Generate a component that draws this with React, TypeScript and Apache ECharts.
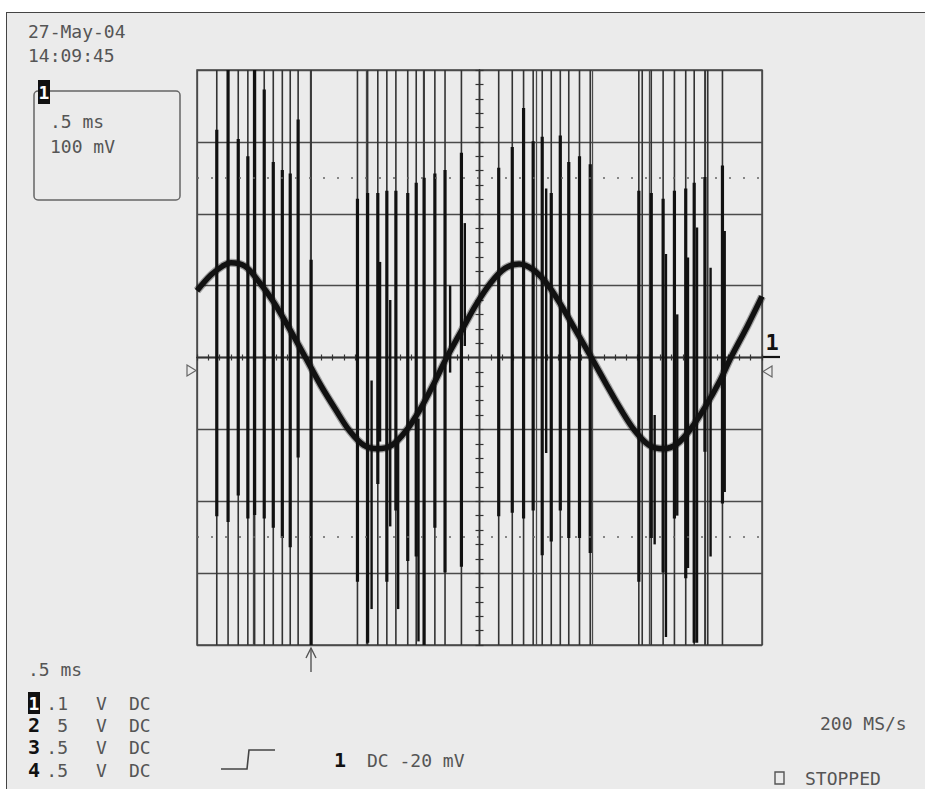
import React, { useEffect, useRef } from "react";
import * as echarts from "echarts";

// Screen in divisions: 10 horizontal (0.5 ms/div), 8 vertical (100 mV/div)
const X_MIN = -5;
const X_MAX = 5;
const Y_MIN = -4;
const Y_MAX = 4;
const DOTTED_LEVELS = [2.5, -2.5];

// Channel 1 sine trace (x in div, y in div)
const traceX = [
  -5.0, -4.75, -4.55, -4.4, -4.15, -3.9, -3.65, -3.4, -3.08, -2.8, -2.55, -2.3, -2.05, -1.8,
  -1.55, -1.3, -1.05, -0.8, -0.58, -0.3, -0.05, 0.2, 0.45, 0.7, 0.95, 1.2, 1.45, 1.7, 1.98,
  2.25, 2.5, 2.75, 3.0, 3.25, 3.5, 3.75, 4.0, 4.25, 4.45, 4.75, 5.0,
];
const traceY = [
  0.93, 1.15, 1.27, 1.32, 1.27, 1.05, 0.78, 0.45, 0.0, -0.4, -0.72, -1.02, -1.22, -1.27,
  -1.22, -1.02, -0.72, -0.35, 0.0, 0.4, 0.75, 1.04, 1.24, 1.3, 1.22, 1.02, 0.72, 0.38, 0.0,
  -0.38, -0.72, -1.02, -1.22, -1.27, -1.2, -0.98, -0.68, -0.33, 0.0, 0.45, 0.85,
];

// Spikes reaching full screen height: [x, core top, core bottom]
const burst1 = [
  [-4.65, 3.17, -2.21], [-4.45, 4.0, -2.29], [-4.27, 3.04, -1.92], [-4.1, 2.8, -2.24],
  [-3.98, 4.0, -2.19], [-3.81, 3.73, -2.24], [-3.65, 2.72, -2.37], [-3.49, 2.61, -2.51],
  [-3.35, 2.56, -2.64], [-3.21, 3.31, -1.39], [-2.98, 1.36, -4.0],
];
const burst2 = [
  [-2.16, 2.21, -3.12], [-1.98, 2.29, -3.97], [-1.8, 2.29, -1.76], [-1.64, 2.32, -3.12],
  [-1.48, 2.32, -2.13], [-1.27, 2.29, -2.83], [-1.12, 2.43, -2.77], [-0.98, 2.5, -4.0],
  [-0.79, 2.56, -2.37], [-0.61, 2.61, -2.99], [-0.32, 2.85, -2.91],
];
const burst3 = [
  [0.34, 2.64, -2.21], [0.58, 2.93, -2.16], [0.78, 3.47, -2.24], [0.95, 3.01, -2.13],
  [1.11, 3.07, -2.75], [1.27, 2.29, -2.56], [1.43, 3.09, -2.13], [1.58, 2.72, -2.51],
  [1.77, 2.8, -2.51], [1.96, 2.69, -2.72],
];
const burst4 = [
  [2.82, 2.32, -3.12], [2.88, 0.0, 0.0], [3.04, 2.29, -2.51], [3.25, 2.21, -2.99],
  [3.45, 2.32, -2.24], [3.65, 2.35, -3.07], [3.8, 2.43, -3.97], [3.99, 2.51, -1.31],
  [4.04, 0.0, 0.0], [4.3, 2.67, -2.03],
];
// Shorter spikes inside the bursts: [x, top, bottom]
const innerSpikes = [
  [-1.91, -0.32, -3.5], [-1.76, 1.33, -1.17], [-1.58, 0.8, -2.35], [-1.44, -1.17, -3.5],
  [-1.08, -0.85, -3.95], [-0.52, 1.0, -0.21], [-0.26, 1.87, 0.16], [1.18, 2.35, -1.33],
  [3.1, -0.8, -2.6], [3.3, 1.44, -3.89], [3.5, 0.6, -2.2], [3.69, 1.39, -2.93],
  [3.85, 1.81, -3.97], [4.09, 1.25, -2.77], [4.34, 1.76, -1.87],
];

const dateLabel = "27-May-04";
const timeLabel = "14:09:45";
const boxLines = [".5 ms", "100 mV"];
const timebaseLabel = ".5 ms";
const chNames = ["1", "2", "3", "4"];
const chScales = [".1", "5", ".5", ".5"];
const chUnits = ["V", "V", "V", "V"];
const chCoupling = ["DC", "DC", "DC", "DC"];
const triggerChannel = "1";
const triggerText = "DC -20 mV";
const sampleRate = "200 MS/s";
const stateLabel = "STOPPED";

const FONT = '"DejaVu Sans Mono", "Liberation Mono", monospace';
const TXT = "#555";

function txt(x: number, y: number, text: string, extra: any = {}) {
  return {
    type: "text",
    x,
    y,
    style: {
      text,
      fill: TXT,
      fontSize: 18,
      fontFamily: FONT,
      align: "left",
      verticalAlign: "middle",
      ...extra,
    },
  };
}

export default function App() {
  const ref = useRef<HTMLDivElement>(null);
  useEffect(() => {
    if (!ref.current) return;
    const chart = echarts.init(ref.current, undefined, { renderer: "svg" });

    const mainData = [...burst1, ...burst2, ...burst3, ...burst4];

    const renderSpike = (full: boolean) => (params: any, api: any) => {
      const x = api.value(0);
      const hi = api.value(1);
      const lo = api.value(2);
      const children: any[] = [];
      if (full) {
        const t = api.coord([x, Y_MAX]);
        const b = api.coord([x, Y_MIN]);
        children.push({
          type: "line",
          shape: { x1: t[0], y1: t[1], x2: b[0], y2: b[1] },
          style: { stroke: "#333", lineWidth: 1.6 },
        });
      }
      const a = api.coord([x, hi]);
      const c = api.coord([x, lo]);
      children.push({
        type: "line",
        shape: { x1: a[0], y1: a[1], x2: c[0], y2: c[1] },
        style: { stroke: "#111", lineWidth: full ? 3.2 : 2.4 },
      });
      return { type: "group", children };
    };

    const axisLineStyle = { color: "#333", width: 1.4 };
    const gridLine = { show: true, lineStyle: { color: "#4a4a4a", width: 1.3 } };

    const rowY = [703, 725, 747, 770];
    const graphic: any[] = [
      txt(28, 31, dateLabel),
      txt(28, 55, timeLabel),
      {
        type: "rect",
        shape: { x: 34, y: 91, width: 146, height: 109, r: 4 },
        style: { fill: "none", stroke: "#666", lineWidth: 1.5 },
      },
      {
        type: "rect",
        shape: { x: 38, y: 80, width: 12, height: 24 },
        style: { fill: "#111" },
      },
      txt(44, 92, "1", { fill: "#fff", align: "center", fontWeight: "bold", fontSize: 18 }),
      txt(50, 121, boxLines[0]),
      txt(50, 146, boxLines[1]),
      txt(28, 669, timebaseLabel),
      // channel table
      {
        type: "rect",
        shape: { x: 28, y: rowY[0] - 11, width: 12, height: 22 },
        style: { fill: "#111" },
      },
      ...chNames.map((n, i) =>
        i === 0
          ? txt(34, rowY[i], n, { fill: "#fff", align: "center", fontWeight: "bold" })
          : txt(34, rowY[i], n, { fill: "#111", align: "center", fontWeight: "bold", fontSize: 20 })
      ),
      ...chScales.map((s, i) => txt(68, rowY[i], s, { align: "right" })),
      ...chUnits.map((u, i) => txt(96, rowY[i], u)),
      ...chCoupling.map((c, i) => txt(129, rowY[i], c)),
      // trigger symbol
      {
        type: "polyline",
        shape: { points: [[221, 769], [247, 769], [249, 750], [275, 750]] },
        style: { stroke: "#444", lineWidth: 1.6, fill: "none" },
      },
      txt(340, 760, triggerChannel, { fill: "#111", align: "center", fontWeight: "bold", fontSize: 20 }),
      txt(367, 760, triggerText),
      txt(820, 723, sampleRate),
      {
        type: "rect",
        shape: { x: 775, y: 772, width: 9, height: 12 },
        style: { fill: "none", stroke: "#555", lineWidth: 1.4 },
      },
      txt(805, 778, stateLabel),
      // trigger position arrow below the screen
      {
        type: "line",
        shape: { x1: 311, y1: 648, x2: 311, y2: 672 },
        style: { stroke: "#555", lineWidth: 1.4 },
      },
      {
        type: "polyline",
        shape: { points: [[306, 658], [311, 648], [316, 658]] },
        style: { stroke: "#555", lineWidth: 1.4, fill: "none" },
      },
      // level markers
      {
        type: "polygon",
        shape: { points: [[187, 365], [196, 370.5], [187, 376]] },
        style: { fill: "none", stroke: "#666", lineWidth: 1.2 },
      },
      {
        type: "polygon",
        shape: { points: [[772, 366], [763, 371.5], [772, 377]] },
        style: { fill: "none", stroke: "#666", lineWidth: 1.2 },
      },
      {
        type: "line",
        shape: { x1: 762, y1: 357, x2: 780, y2: 357 },
        style: { stroke: "#111", lineWidth: 2.2 },
      },
      txt(772, 342, "1", { fill: "#111", align: "center", fontWeight: "bold", fontSize: 22 }),
    ];

    const tickStyle = { color: "#333", width: 1.2 };

    chart.setOption({
      animation: false,
      backgroundColor: "transparent",
      grid: {
        left: 197,
        top: 70,
        width: 565,
        height: 575,
        show: true,
        borderColor: "#444",
        borderWidth: 1.5,
        backgroundColor: "transparent",
      },
      xAxis: [
        {
          type: "value",
          min: X_MIN,
          max: X_MAX,
          interval: 1,
          position: "bottom",
          axisLine: { onZero: true, onZeroAxisIndex: 0, lineStyle: axisLineStyle },
          axisTick: { show: true, inside: false, length: 3, lineStyle: tickStyle },
          minorTick: { show: true, splitNumber: 5, length: 3, lineStyle: tickStyle },
          axisLabel: { show: false },
          splitLine: gridLine,
        },
        {
          type: "value",
          min: X_MIN,
          max: X_MAX,
          interval: 1,
          position: "bottom",
          axisLine: { onZero: true, onZeroAxisIndex: 0, lineStyle: axisLineStyle },
          axisTick: { show: true, inside: true, length: 3, lineStyle: tickStyle },
          minorTick: { show: true, splitNumber: 5, length: 3, lineStyle: tickStyle },
          axisLabel: { show: false },
          splitLine: { show: false },
        },
      ],
      yAxis: [
        {
          type: "value",
          min: Y_MIN,
          max: Y_MAX,
          interval: 1,
          position: "left",
          axisLine: { onZero: true, onZeroAxisIndex: 0, lineStyle: axisLineStyle },
          axisTick: { show: true, inside: false, length: 4, lineStyle: tickStyle },
          minorTick: { show: true, splitNumber: 5, length: 4, lineStyle: tickStyle },
          axisLabel: { show: false },
          splitLine: gridLine,
        },
        {
          type: "value",
          min: Y_MIN,
          max: Y_MAX,
          interval: 1,
          position: "left",
          axisLine: { onZero: true, onZeroAxisIndex: 0, lineStyle: axisLineStyle },
          axisTick: { show: true, inside: true, length: 4, lineStyle: tickStyle },
          minorTick: { show: true, splitNumber: 5, length: 4, lineStyle: tickStyle },
          axisLabel: { show: false },
          splitLine: { show: false },
        },
      ],
      graphic,
      series: [
        {
          type: "custom",
          name: "spikes",
          xAxisIndex: 0,
          yAxisIndex: 0,
          clip: true,
          renderItem: renderSpike(true),
          data: mainData,
          encode: { x: 0, y: [1, 2] },
          z: 2,
          silent: true,
        },
        {
          type: "custom",
          name: "inner",
          xAxisIndex: 0,
          yAxisIndex: 0,
          clip: true,
          renderItem: renderSpike(false),
          data: innerSpikes,
          encode: { x: 0, y: [1, 2] },
          z: 2,
          silent: true,
        },
        {
          type: "line",
          name: "ch1 halo",
          xAxisIndex: 0,
          yAxisIndex: 0,
          data: traceX.map((x, i) => [x, traceY[i]]),
          showSymbol: false,
          smooth: 0.35,
          lineStyle: { color: "#111", width: 8, opacity: 0.35 },
          z: 3,
          silent: true,
        },
        {
          type: "line",
          name: "ch1",
          xAxisIndex: 0,
          yAxisIndex: 0,
          data: traceX.map((x, i) => [x, traceY[i]]),
          showSymbol: false,
          smooth: 0.35,
          lineStyle: { color: "#111", width: 5.5 },
          z: 4,
          silent: true,
          markLine: {
            silent: true,
            symbol: ["none", "none"],
            label: { show: false },
            lineStyle: { type: [2, 12], color: "#666", width: 1.6 },
            data: DOTTED_LEVELS.map((v) => ({ yAxis: v })),
          },
        },
      ],
    });

    return () => chart.dispose();
  }, []);

  return (
    <div
      style={{
        position: "fixed",
        left: 0,
        top: 0,
        width: 925,
        height: 789,
        background: "#fff",
        overflow: "hidden",
      }}
    >
      <div
        style={{
          position: "absolute",
          left: 6,
          top: 12,
          width: 930,
          height: 800,
          background: "#ebebeb",
          border: "1.5px solid #444",
        }}
      />
      <div ref={ref} style={{ position: "absolute", left: 0, top: 0, width: 925, height: 789 }} />
    </div>
  );
}
